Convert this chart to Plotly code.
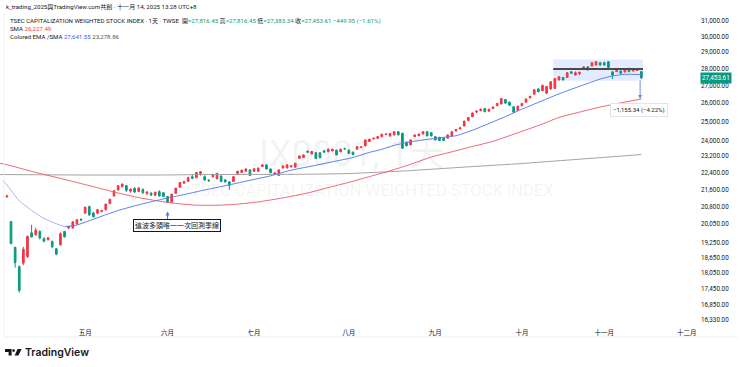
import math
import datetime as dt
import plotly.graph_objects as go

# ---------------- data ----------------
HOLIDAYS = ["2025-04-03", "2025-04-04", "2025-05-01", "2025-05-30",
            "2025-09-29", "2025-10-06", "2025-10-10", "2025-10-24"]

def trading_days(start, end):
    d = dt.date.fromisoformat(start)
    e = dt.date.fromisoformat(end)
    out = []
    while d <= e:
        if d.weekday() < 5 and d.isoformat() not in HOLIDAYS:
            out.append(d.isoformat())
        d += dt.timedelta(days=1)
    return out

CAL = trading_days("2025-03-31", "2025-12-31")
BASE = CAL.index("2025-04-07")

def pos(date):
    return CAL.index(date) - BASE

dates = CAL[CAL.index("2025-04-02"):CAL.index("2025-11-14") + 1]

opens = [
    21260,
    20160, 19070, 18300, 18440, 18700, 19680, 19600, 19740, 19430, 19390,
    19320, 19020, 19180, 19740, 19880, 19890, 20060, 20260,
    20530, 20820, 20540, 20530, 20610, 20676, 20960, 21300, 21580, 21730, 21780,
    21520, 21650, 21500, 21600, 21420, 21420, 21330, 21500, 21450,
    21280, 21020, 21420, 21700, 21900, 21980, 22200, 22150, 22350, 22200,
    22030, 22200, 22100, 22230, 22050, 21950, 21970, 22350, 22400, 22460, 22526,
    22460, 22460, 22690, 22770, 22570, 22320, 22260, 22620, 22620, 22670, 22660, 23090, 23130, 23450,
    23310, 23370, 23370, 23470, 23420, 23460, 23500, 23420, 23580,
    23500, 23400, 23550, 23640, 23720, 23940, 24080, 24110, 24190, 24300, 24220,
    24280, 24450, 24370, 23900, 23770, 24190, 24240, 24330, 24450, 24400,
    24190, 24160, 24110, 24110, 24230, 24490, 24600, 24750, 25050, 25250,
    25500, 25580, 25700, 25550, 25700, 25850, 25950, 26200, 26050, 25800, 25600,
    25850, 26050, 26300, 26500, 26800, 26700, 26560, 26800, 26830, 27320, 27470,
    27470, 27800, 27610, 27700, 27950, 28100, 28150, 28210, 28350,
    28350, 28410, 27800, 27810, 27850, 27790, 28010, 27850, 27880, 27816.45,
]
highs = [
    21360,
    20180, 19110, 18350, 19100, 19560, 20020, 19900, 19780, 19500, 19500,
    19350, 19050, 19700, 19760, 19980, 20180, 20260, 20300,
    20820, 20860, 20580, 20700, 20680, 20950, 21170, 21560, 21790, 21880, 21800,
    21650, 21700, 21700, 21650, 21520, 21480, 21500, 21560, 21480,
    21300, 21400, 21680, 21950, 22000, 22200, 22300, 22420, 22470, 22260,
    22080, 22340, 22380, 22260, 22080, 21990, 22230, 22480, 22540, 22600, 22560,
    22600, 22640, 22800, 22790, 22600, 22400, 22540, 22740, 22790, 22740, 22870, 23230, 23280, 23480,
    23460, 23400, 23390, 23500, 23570, 23570, 23520, 23570, 23620,
    23530, 23430, 23700, 23700, 24040, 24080, 24130, 24210, 24340, 24360, 24380,
    24470, 24480, 24390, 23950, 24040, 24300, 24350, 24470, 24480, 24420,
    24210, 24180, 24130, 24300, 24470, 24580, 24700, 25050, 25230, 25480,
    25600, 25700, 25720, 25700, 25800, 26000, 26280, 26230, 26080, 25820, 25850,
    26000, 26250, 26400, 26780, 26850, 27050, 26980, 27250, 27420, 27540, 27500,
    27780, 27850, 27830, 27800, 28120, 28130, 28380, 28450, 28400,
    28420, 28430, 27830, 27940, 27880, 27940, 28040, 28000, 27950, 27816.45,
]
lows = [
    21220,
    19200, 18260, 17307, 18360, 18650, 19480, 19550, 19400, 19280, 19360,
    19050, 18760, 19150, 19480, 19850, 19860, 20040, 20180,
    20500, 20400, 20330, 20480, 20560, 20650, 20930, 21280, 21560, 21700, 21480,
    21450, 21450, 21480, 21400, 21330, 21300, 21300, 21280, 21250,
    21000, 20990, 21400, 21680, 21850, 21960, 22080, 22130, 22250, 22000,
    21950, 22150, 22080, 21940, 21920, 21580, 21950, 22320, 22380, 22440, 22240,
    22440, 22430, 22670, 22550, 22370, 22300, 22240, 22600, 22600, 22650, 22640, 23070, 23110, 23380,
    23290, 23060, 23100, 23380, 23400, 23440, 23240, 23400, 23540,
    23310, 23250, 23530, 23600, 23700, 23920, 24040, 24090, 24170, 24270, 24200,
    24260, 24260, 23580, 23700, 23750, 24170, 24220, 24310, 24210, 24210,
    24000, 23970, 23970, 24090, 24210, 24470, 24550, 24730, 25000, 25230,
    25450, 25550, 25500, 25530, 25680, 25830, 25930, 25950, 25850, 25450, 25580,
    25820, 26030, 26250, 26480, 26600, 26680, 26500, 26750, 26800, 27300, 27300,
    27450, 27700, 27590, 27600, 27930, 27890, 28130, 28190, 28190,
    28190, 28050, 27370, 27790, 27690, 27770, 27790, 27830, 27850, 27383.34,
]
closes = [
    21298,
    19232, 18460, 17392, 19000, 19529, 19513, 19797, 19468, 19330, 19470,
    19100, 18800, 19640, 19510, 19950, 20150, 20240, 20235,
    20795, 20455, 20380, 20680, 20640, 20930, 21150, 21540, 21770, 21850, 21560,
    21610, 21480, 21670, 21450, 21480, 21350, 21470, 21300, 21280,
    21010, 21380, 21660, 21920, 21960, 22150, 22120, 22400, 22440, 22050,
    22010, 22310, 22360, 21970, 21950, 21800, 22200, 22460, 22510, 22570, 22260,
    22580, 22610, 22770, 22570, 22390, 22380, 22526, 22720, 22770, 22720, 22850, 23210, 23260, 23400,
    23440, 23080, 23120, 23400, 23550, 23550, 23260, 23550, 23560,
    23330, 23270, 23680, 23660, 24020, 24060, 24110, 24190, 24320, 24330, 24360,
    24450, 24280, 23600, 23720, 24020, 24280, 24330, 24450, 24230, 24230,
    24020, 23990, 23990, 24280, 24450, 24560, 24650, 25000, 25200, 25450,
    25550, 25650, 25520, 25650, 25780, 25980, 26250, 26000, 25880, 25500, 25821,
    25980, 26230, 26380, 26750, 26650, 27000, 26940, 27210, 27400, 27510, 27320,
    27750, 27720, 27750, 27780, 28100, 27910, 28350, 28410, 28210,
    28210, 28070, 27610, 27910, 27710, 27910, 27810, 27970, 27903.56, 27453.61,
]

# Colored EMA (blue / lavender while falling)
ema_dates = ["2025-04-01", "2025-04-02", "2025-04-07", "2025-04-09", "2025-04-14", "2025-04-17",
             "2025-04-22", "2025-04-24", "2025-04-29", "2025-05-05", "2025-05-09", "2025-05-14",
             "2025-05-20", "2025-05-26", "2025-06-02", "2025-06-09", "2025-06-16", "2025-06-23",
             "2025-06-30", "2025-07-07", "2025-07-14", "2025-07-21", "2025-07-28", "2025-08-04",
             "2025-08-08", "2025-08-13", "2025-08-18", "2025-08-21", "2025-08-27", "2025-09-02",
             "2025-09-08", "2025-09-12", "2025-09-18", "2025-09-24", "2025-10-01", "2025-10-08",
             "2025-10-15", "2025-10-21", "2025-10-27", "2025-10-31", "2025-11-05", "2025-11-10",
             "2025-11-14"]
ema_vals = [22040, 21807, 21563, 21084, 20650, 20297,
            20070, 19939, 20014, 20199, 20460, 20645,
            20852, 21034, 21207, 21406, 21616, 21815,
            22028, 22240, 22512, 22709, 22920, 23131,
            23388, 23543, 23741, 23889, 24019, 24131,
            24240, 24528, 24884, 25253, 25659, 26037,
            26424, 26782, 27037, 27376, 27558, 27653,
            27641.55]

# SMA (red, quarterly line)
sma_dates = ["2025-03-31", "2025-04-07", "2025-04-14", "2025-04-22", "2025-04-29", "2025-05-07",
             "2025-05-14", "2025-05-21", "2025-05-28", "2025-06-04", "2025-06-11", "2025-06-18",
             "2025-06-25", "2025-07-02", "2025-07-10", "2025-07-18", "2025-07-25", "2025-08-01",
             "2025-08-08", "2025-08-15", "2025-08-22", "2025-08-29", "2025-09-05", "2025-09-12",
             "2025-09-19", "2025-09-26", "2025-10-03", "2025-10-09", "2025-10-16", "2025-10-23",
             "2025-10-31", "2025-11-07", "2025-11-14"]
sma_vals = [22863, 22728, 22453, 22165, 21924, 21680,
            21436, 21226, 21062, 20963, 20883, 20880,
            20931, 21030, 21211, 21436, 21686, 21933,
            22203, 22482, 22797, 23155, 23417, 23686,
            23951, 24318, 24619, 24856, 25211, 25500,
            25780, 26012, 26227.49]

# long SMA (gray)
lsma_dates = ["2025-03-31", "2025-04-30", "2025-05-29", "2025-06-12", "2025-07-16", "2025-08-01",
              "2025-08-21", "2025-09-12", "2025-10-01", "2025-10-21", "2025-11-14"]
lsma_vals = [22305, 22281, 22281, 22300, 22313, 22351,
             22482, 22686, 22837, 23019, 23278.86]

y_ticks = [16330, 16850, 17450, 18050, 18650, 19250, 20050, 20800, 21600, 22400,
           23200, 24000, 25000, 26000, 27000, 28000, 29000, 30000, 31000]
month_labels = ["五月", "六月", "七月", "八月", "九月", "十月", "十一月", "十二月"]

# ---------------- styling ----------------
UP = "#F23645"
DOWN = "#089981"
TXT = "#131722"
FONT = "Roboto, 'Noto Sans CJK TC', 'Noto Sans', sans-serif"

W, H = 740, 367
ML, MR, MT, MB = 0, 50, 14, 42
PW, PH = W - ML - MR, H - MT - MB

def px(x):
    return (x - ML) / PW

def py(y):
    return (H - MB - y) / PH

month_starts = []
for m in range(5, 13):
    first = next(d for d in CAL if d.startswith(f"2025-{m:02d}"))
    month_starts.append(pos(first))

fig = go.Figure()

fig.add_trace(go.Candlestick(
    x=[pos(d) for d in dates], open=opens, high=highs, low=lows, close=closes,
    increasing=dict(line=dict(color=UP, width=1), fillcolor=UP),
    decreasing=dict(line=dict(color=DOWN, width=1), fillcolor=DOWN),
    whiskerwidth=0, hoverinfo="skip", showlegend=False,
))

fig.add_trace(go.Scatter(x=[pos(d) for d in lsma_dates], y=lsma_vals, mode="lines",
                         line=dict(color="#a3a3a3", width=1, shape="spline", smoothing=0.6),
                         hoverinfo="skip"))
fig.add_trace(go.Scatter(x=[pos(d) for d in sma_dates], y=sma_vals, mode="lines",
                         line=dict(color="#ee6673", width=1, shape="spline", smoothing=0.6),
                         hoverinfo="skip"))
kmin = ema_vals.index(min(ema_vals))
fig.add_trace(go.Scatter(x=[pos(d) for d in ema_dates[:kmin + 1]], y=ema_vals[:kmin + 1], mode="lines",
                         line=dict(color="#b8abee", width=1, shape="spline", smoothing=0.6),
                         hoverinfo="skip"))
fig.add_trace(go.Scatter(x=[pos(d) for d in ema_dates[kmin:]], y=ema_vals[kmin:], mode="lines",
                         line=dict(color="#5b80ea", width=1, shape="spline", smoothing=0.6),
                         hoverinfo="skip"))

x_lo = (0 - 11) / 4.12
x_hi = (PW - 11) / 4.12

fig.update_layout(
    width=W, height=H, margin=dict(l=ML, r=MR, t=MT, b=MB),
    paper_bgcolor="white", plot_bgcolor="white", showlegend=False,
    boxgap=0.42,
    font=dict(family=FONT, color=TXT),
    xaxis=dict(range=[x_lo, x_hi], tickvals=month_starts, ticktext=month_labels,
               showgrid=False, zeroline=False, showline=False, ticks="",
               tickfont=dict(size=6.5, color=TXT), rangeslider=dict(visible=False),
               ticklabelstandoff=2),
    yaxis=dict(type="log", range=[math.log10(16148), math.log10(31476)], side="right",
               tickvals=y_ticks, ticktext=[f"{v:,.2f}" for v in y_ticks],
               showgrid=False, zeroline=False, showline=False, ticks="",
               tickfont=dict(size=6.3, color=TXT), ticklabelstandoff=10),
)

shapes = []
shapes.append(dict(type="line", xref="paper", yref="paper", x0=px(4), x1=px(4), y0=py(13), y1=py(337),
                   line=dict(color="#eef0f4", width=1)))
shapes.append(dict(type="line", xref="paper", yref="paper", x0=px(4), x1=px(738), y0=py(337), y1=py(337),
                   line=dict(color="#eef0f4", width=1)))
bx0, bx1 = 131.6, 153.4
shapes.append(dict(type="rect", xref="x", yref="y", x0=bx0, x1=bx1, y0=27270, y1=28545,
                   fillcolor="rgba(41,98,255,0.13)", line=dict(width=0), layer="below"))
shapes.append(dict(type="line", xref="x", yref="y", x0=bx0, x1=bx1, y0=27970, y1=27970,
                   line=dict(color="#4a4a4a", width=2)))

def path(points):
    return "M " + " L ".join(f"{px(a):.5f},{py(b):.5f}" for a, b in points) + " Z"

shapes.append(dict(type="path", xref="paper", yref="paper",
                   path=path([(5, 349), (11.6, 349), (11.6, 355.6), (8.6, 355.6), (8.6, 352), (5, 352)]),
                   fillcolor=TXT, line=dict(width=0)))
shapes.append(dict(type="circle", xref="paper", yref="paper",
                   x0=px(12.3), x1=px(14.9), y0=py(351.9), y1=py(349.3),
                   fillcolor=TXT, line=dict(width=0)))
shapes.append(dict(type="path", xref="paper", yref="paper",
                   path=path([(17.6, 349), (21.6, 349), (18.4, 355.6), (14.6, 355.6)]),
                   fillcolor=TXT, line=dict(width=0)))
fig.update_layout(shapes=shapes)

G = DOWN
HS = 6.1
ann = []
def note(x, y, text, size=HS, color=TXT, xanchor="left", **kw):
    ann.append(dict(xref="paper", yref="paper", x=px(x), y=py(y), text=text, showarrow=False,
                    xanchor=xanchor, yanchor="middle", font=dict(size=size, color=color, family=FONT), **kw))

note(4, 7, "k_trading_2025與TradingView.com共創 · 十一月 14, 2025 13:28 UTC+8")
note(8, 20.5, "TSEC CAPITALIZATION WEIGHTED STOCK INDEX · 1天 · TWSE &nbsp;"
              f"開<span style='color:{G}'>=27,816.45</span> 高<span style='color:{G}'>=27,816.45</span> "
              f"低<span style='color:{G}'>=27,383.34</span> 收<span style='color:{G}'>=27,453.61</span> "
              f"<span style='color:{G}'>−449.95 (−1.61%)</span>")
note(8, 28.5, f"SMA <span style='color:{UP}'>26,227.49</span>")
note(8, 36.3, "Colored EMA /SMA <span style='color:#2962FF'>27,641.55</span> "
              "<span style='color:#555555'>23,278.86</span>")

note(352, 153.5, "IX0001, 1天", size=36, color="rgba(120,123,134,0.09)", xanchor="center")
note(372, 190, "TSEC CAPITALIZATION WEIGHTED STOCK INDEX", size=16.5,
     color="rgba(120,123,134,0.09)", xanchor="center")

note(176.5, 225.4, "這波多頭唯一一次回測季線", size=7, xanchor="center",
     bgcolor="white", bordercolor=TXT, borderwidth=1, borderpad=1)
ann.append(dict(xref="x", yref="y", x=pos("2025-06-02"), y=math.log10(20600), text="",
                showarrow=True, ax=0, ay=9, arrowhead=2, arrowsize=0.8, arrowwidth=1,
                arrowcolor="#4f7be0"))

ann.append(dict(xref="x", yref="y", x=pos("2025-11-14") - 0.3, y=math.log10(26227.49), text="",
                showarrow=True, ax=0, ay=-20, arrowhead=2, arrowsize=0.8, arrowwidth=1,
                arrowcolor="#6a8fe6"))
note(639, 109.5, "−1,155.34 (−4.22%)", size=6, xanchor="center",
     bgcolor="white", bordercolor="#e0e3eb", borderwidth=1, borderpad=2)

ann.append(dict(xref="paper", yref="y", x=px(699.5), y=math.log10(27453.61), text="27,453.61",
                showarrow=False, xanchor="left", yanchor="middle",
                font=dict(size=6.3, color="white", family=FONT), bgcolor=DOWN, borderpad=1))

ann.append(dict(xref="paper", yref="paper", x=px(23), y=py(352.4), text="TradingView", showarrow=False,
                xanchor="left", yanchor="middle",
                font=dict(size=10.5, color=TXT, family="Inter, Roboto, sans-serif", weight=600)))

fig.update_layout(annotations=ann)
fig.write_html("out.html",
               config={"displayModeBar": False, "staticPlot": True},
               post_script="document.body.style.margin='0';document.body.style.padding='0';")
